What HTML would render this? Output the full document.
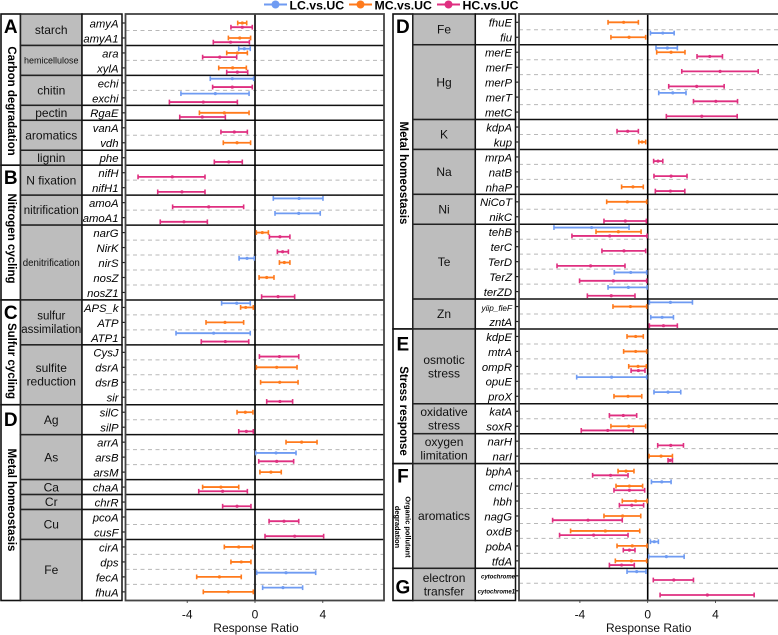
<!DOCTYPE html>
<html><head><meta charset="utf-8">
<style>
html,body{margin:0;padding:0;background:#fff;width:778px;height:635px;overflow:hidden}
svg{display:block;font-family:"Liberation Sans",sans-serif}
</style></head>
<body>
<svg id="chart" xmlns="http://www.w3.org/2000/svg" width="778" height="635" viewBox="0 0 778 635"></svg>
<script>
const seriesNames = ['LC.vs.UC','MC.vs.UC','HC.vs.UC'];
const xTicks = [-4,0,4];

const leftGenes = ['amyA','amyA1','ara','xylA','echi','exchi','RgaE','vanA','vdh','phe','nifH','nifH1','amoA','amoA1','narG','NirK','nirS','nosZ','nosZ1','APS_k','ATP','ATP1','CysJ','dsrA','dsrB','sir','silC','silP','arrA','arsB','arsM','chaA','chrR','pcoA','cusF','cirA','dps','fecA','fhuA'];
const leftGroupNames = ['starch','hemicellulose','chitin','pectin','aromatics','lignin','N fixation','nitrification','denitrification','sulfur\nassimilation','sulfite\nreduction','Ag','As','Ca','Cr','Cu','Fe'];
const leftGroupSizes = [2,2,2,1,2,1,2,2,5,3,4,2,3,1,1,2,4];
const leftLC = {ara:[-0.96,-0.63,-0.28],echi:[-2.64,-1.34,-0.08],exchi:[-4.37,-2.34,-0.35],amoA:[1.08,2.60,4.01],amoA1:[1.18,2.58,3.85],nirS:[-0.94,-0.47,-0.04],APS_k:[-1.97,-1.08,-0.28],ATP1:[-4.66,-2.44,-0.28],arsB:[0.04,1.24,2.42],fecA:[0.10,1.83,3.58],fhuA:[0.45,1.65,2.81]};
const leftMC = {amyA:[-1.02,-0.75,-0.49],amyA1:[-1.57,-0.90,-0.26],ara:[-1.67,-1.04,-0.45],xylA:[-2.14,-1.32,-0.51],RgaE:[-3.28,-1.81,-0.35],vdh:[-1.87,-1.06,-0.26],narG:[0.08,0.43,0.79],nirS:[1.44,1.73,2.06],nosZ:[0.24,0.69,1.12],APS_k:[-0.85,-0.55,-0.10],ATP:[-2.89,-1.77,-0.67],dsrA:[0.08,1.28,2.48],dsrB:[0.33,1.46,2.54],silC:[-1.06,-0.57,-0.12],arrA:[1.83,2.75,3.66],arsM:[0.29,0.94,1.55],chaA:[-3.09,-2.01,-0.96],cirA:[-1.81,-0.96,-0.14],dps:[-1.42,-0.81,-0.24],fecA:[-3.44,-2.10,-0.81],fhuA:[-3.05,-1.57,-0.10]};
const leftHC = {amyA:[-1.42,-0.75,-0.16],amyA1:[-2.46,-1.44,-0.33],ara:[-3.09,-2.08,-1.08],xylA:[-1.67,-1.04,-0.43],echi:[-2.50,-1.34,-0.16],exchi:[-5.05,-3.05,-1.04],RgaE:[-4.44,-3.11,-1.75],vanA:[-2.01,-1.22,-0.45],phe:[-2.40,-1.55,-0.75],nifH:[-6.90,-4.88,-2.95],nifH1:[-5.74,-4.31,-2.95],amoA:[-4.86,-2.73,-0.67],amoA1:[-5.59,-4.19,-2.81],narG:[0.85,1.47,2.06],NirK:[1.32,1.63,1.97],nosZ1:[0.39,1.36,2.34],ATP1:[-3.17,-1.75,-0.37],CysJ:[0.26,1.44,2.58],sir:[0.69,1.47,2.22],silP:[-0.96,-0.51,-0.10],arsB:[0.22,1.28,2.28],chaA:[-3.32,-1.91,-0.45],chrR:[-1.91,-1.06,-0.24],pcoA:[0.83,1.71,2.58],cusF:[0.59,2.34,4.05]};

const rightGenes = ['fhuE','fiu','merE','merF','merP','merT','metC','kdpA','kup','mrpA','natB','nhaP','NiCoT','nikC','tehB','terC','TerD','TerZ','terZD','yiip_fieF','zntA','kdpE','mtrA','ompR','opuE','proX','katA','soxR','narH','narI','bphA','cmcl','hbh','nagG','oxdB','pobA','tfdA','cytochrome','cytochrome1'];
const rightGroupNames = ['Fe','Hg','K','Na','Ni','Te','Zn','osmotic\nstress','oxidative\nstress','oxygen\nlimitation','aromatics','electron\ntransfer'];
const rightGroupSizes = [2,5,2,3,2,5,2,5,2,2,7,2];
const rightLC = {fiu:[0.16,0.89,1.56],merE:[0.49,1.16,1.75],merT:[0.65,1.48,2.26],tehB:[-5.53,-3.31,-1.10],TerZ:[-1.97,-1.00,-0.06],terZD:[-2.34,-1.14,-0.04],yiip_fieF:[0.10,1.34,2.64],zntA:[0.18,0.85,1.52],opuE:[-4.19,-2.13,-0.06],proX:[0.37,1.20,1.95],cmcl:[0.22,0.83,1.38],pobA:[0.16,0.39,0.63],tfdA:[0.06,1.10,2.15],cytochrome:[-1.22,-0.65,-0.10]};
const rightMC = {fhuE:[-2.34,-1.42,-0.55],fiu:[-2.17,-1.10,-0.12],merE:[0.53,1.38,2.20],kup:[-0.53,-0.33,-0.12],nhaP:[-1.54,-0.87,-0.26],NiCoT:[-2.42,-1.20,-0.06],tehB:[-3.05,-1.73,-0.39],yiip_fieF:[-2.05,-1.02,-0.06],kdpE:[-1.22,-0.71,-0.26],mtrA:[-1.42,-0.71,-0.06],ompR:[-1.12,-0.57,-0.08],proX:[-1.99,-1.16,-0.35],soxR:[-2.17,-1.12,-0.12],narI:[0.08,0.79,1.46],bphA:[-1.75,-1.28,-0.81],cmcl:[-1.87,-1.08,-0.30],hbh:[-1.50,-0.71,-0.04],nagG:[-2.58,-1.48,-0.41],oxdB:[-4.55,-2.50,-0.47],pobA:[-1.81,-0.91,-0.04],tfdA:[-1.91,-0.96,-0.06]};
const rightHC = {merE:[2.91,3.66,4.41],merF:[2.01,4.27,6.52],merP:[1.24,2.89,4.51],merT:[2.70,4.02,5.30],metC:[1.10,3.19,5.28],kdpA:[-1.81,-1.18,-0.55],mrpA:[0.35,0.61,0.89],natB:[0.37,1.38,2.32],nhaP:[0.45,1.34,2.19],nikC:[-2.58,-1.32,-0.08],tehB:[-4.47,-2.24,-0.04],terC:[-2.70,-1.40,-0.12],TerD:[-5.35,-3.37,-1.34],TerZ:[-4.02,-2.03,-0.06],terZD:[-3.56,-2.15,-0.75],zntA:[0.10,0.93,1.75],ompR:[-0.98,-0.55,-0.16],katA:[-2.26,-1.44,-0.65],soxR:[-3.92,-2.36,-0.85],narH:[0.59,1.36,2.11],narI:[1.20,1.32,1.46],bphA:[-3.25,-2.19,-1.16],cmcl:[-1.99,-1.08,-0.18],hbh:[-1.67,-0.94,-0.24],nagG:[-5.61,-3.52,-1.50],oxdB:[-5.20,-3.19,-1.16],pobA:[-1.44,-1.08,-0.75],tfdA:[-2.26,-1.54,-0.79],cytochrome:[0.33,1.54,2.70],cytochrome1:[0.73,3.52,6.28]};

const leftCategories = [
  {letter:'A',title:['Carbon degradation'],size:11.5,titleY:101,letterDy:19},
  {letter:'B',title:['Nitrogen cycling'],size:11.5,titleY:238.5,letterDy:19},
  {letter:'C',title:['Sulfur cycling'],size:11.5,titleY:361,letterDy:19},
  {letter:'D',title:['Metal homeostasis'],size:11.5,titleY:500,letterDy:21.5}
];
const leftCategorySizes = [10,9,7,13];
const rightCategories = [
  {letter:'D',title:['Metal homeostasis'],size:11.5,titleY:173,letterDy:19},
  {letter:'E',title:['Stress response'],size:11.5,titleY:411,letterDy:21.5},
  {letter:'F',title:['Organic pollutant','degradation'],size:7.4,titleY:527,letterDy:19},
  {letter:'G',title:[],size:10,titleY:0,letterDy:25}
];
const rightCategorySizes = [21,9,7,2];

const NS = 'http://www.w3.org/2000/svg';
const svg = document.getElementById('chart');
const COLORS = ['#6f9bf2','#ff7a1c','#df2f80'];

function mk(tag, attrs, parent, text){
  const e = document.createElementNS(NS, tag);
  for (const k in attrs) e.setAttribute(k, attrs[k]);
  if (text !== undefined) e.textContent = text;
  (parent || svg).appendChild(e);
  return e;
}
function kebab(s){ return String(s).toLowerCase().replace(/[^a-z0-9]+/g,'-').replace(/^-|-$/g,''); }

function drawPanel(cfg){
  const g = mk('g', {});
  
  
  const xs = v => cfg.zero + v * 16.95;
  const ys = i => cfg.y0 + i * cfg.step;
  const mid = i => ys(i) + cfg.step / 2;
  const top = 14, bottom = 600.5;

  // category column
  let r = 0;
  cfg.cats.forEach((c, ci) => {
    const n = cfg.catSizes[ci];
    const a = r === 0 ? top : mid(r - 1);
    const b = r + n >= cfg.genes.length ? bottom : mid(r + n - 1);
    const box = mk('rect', {x:cfg.catX, y:a, width:cfg.grayX - cfg.catX, height:b - a, fill:'#fff', stroke:'#111', 'stroke-width':1.6}, g);
    
    
    const cx = (cfg.catX + cfg.grayX) / 2;
    const letter = mk('text', {x:cx, y:a + c.letterDy, 'text-anchor':'middle', 'font-size':19, 'font-weight':'bold', fill:'#000'}, g, c.letter);
    
    
    c.title.forEach((line, li) => {
      const off = c.title.length > 1 ? (li === 0 ? 5 : -5.5) : 0;
      const t = mk('text', {transform:'translate(' + (cx + off) + ',' + c.titleY + ') rotate(90)', 'text-anchor':'middle', 'dominant-baseline':'central', 'font-size':c.size, 'font-weight':'bold', fill:'#000'}, g, line);
      
      
    });
    r += n;
  });

  // group + gene cells
  r = 0;
  cfg.groupNames.forEach((name, gi) => {
    const n = cfg.groupSizes[gi];
    const a = r === 0 ? top : mid(r - 1);
    const b = r + n >= cfg.genes.length ? bottom : mid(r + n - 1);
    const cell = mk('rect', {x:cfg.grayX, y:a, width:cfg.geneX - cfg.grayX, height:b - a, fill:'#bdbdbd', stroke:'#222', 'stroke-width':1.5}, g);
    
    
    const geneCell = mk('rect', {x:cfg.geneX, y:a, width:cfg.geneEnd - cfg.geneX, height:b - a, fill:'#fff', stroke:'#111', 'stroke-width':1.5}, g);
    
    
    const lines = name.split('\n');
    const fs = name === 'hemicellulose' ? 9 : name === 'denitrification' ? 9.7 : name === 'nitrification' ? 11.5 : lines[0] === 'sulfur' ? 11.5 : 12;
    const cy = (a + b) / 2;
    const lh = 13.5;
    lines.forEach((ln, li) => {
      const t = mk('text', {x:(cfg.grayX + cfg.geneX) / 2, y:cy + (li - (lines.length - 1) / 2) * lh + fs * 0.35, 'text-anchor':'middle', 'font-size':fs, fill:'#111'}, g, ln);
      
      
    });
    r += n;
  });

  // gene labels and ticks
  cfg.genes.forEach((gene, i) => {
    const tiny = gene.startsWith('cytochrome');
    const fs = tiny ? 6 : gene === 'yiip_fieF' ? 8.2 : 11.3;
    const t = mk('text', {x:cfg.geneEnd - (tiny ? 0.5 : 3.5), y:ys(i) + (tiny ? 2.6 : 4.4), 'text-anchor':'end', 'font-size':fs, 'font-style':'italic', 'font-weight':tiny ? 'bold' : 'normal', fill:'#000'}, g, gene);
    
    
    const tk = mk('line', {x1:cfg.geneEnd, x2:cfg.plotL, y1:ys(i), y2:ys(i), stroke:'#222', 'stroke-width':1.2}, g);
    
    
  });

  // plot background
  const bg = mk('rect', {x:cfg.plotL, y:top, width:cfg.plotR - cfg.plotL, height:bottom - top, fill:'#fff'}, g);
  
  

  // gridlines
  for (let i = 0; i < cfg.genes.length - 1; i++) {
    const l = mk('line', {x1:cfg.plotL, x2:cfg.plotR, y1:mid(i), y2:mid(i), stroke:'#b8b8b8', 'stroke-width':1, 'stroke-dasharray':'4 3.5'}, g);
    
    
  }
  // separators
  r = 0;
  cfg.groupSizes.forEach((n, gi) => {
    r += n;
    if (r >= cfg.genes.length) return;
    const l = mk('line', {x1:cfg.plotL, x2:cfg.plotR, y1:mid(r - 1), y2:mid(r - 1), stroke:'#111', 'stroke-width':1.5}, g);
    
    
  });
  // zero line
  const zl = mk('line', {x1:xs(0), x2:xs(0), y1:top, y2:bottom, stroke:'#000', 'stroke-width':1.6}, g);
  
  

  // bars
  const dodge = [-4.2, 0, 4.2];
  const keys = ['lc','mc','hc'];
  [cfg.lc, cfg.mc, cfg.hc].forEach((series, si) => {
    cfg.genes.forEach((gene, i) => {
      const v = series[gene];
      if (!v) return;
      const y = ys(i) + dodge[si];
      const bar = mk('g', {stroke:COLORS[si], fill:COLORS[si]}, g);
      
      
      mk('line', {x1:xs(v[0]), x2:xs(v[2]), y1:y, y2:y, 'stroke-width':1.8}, bar);
      mk('line', {x1:xs(v[0]), x2:xs(v[0]), y1:y - 2.4, y2:y + 2.4, 'stroke-width':1.6}, bar);
      mk('line', {x1:xs(v[2]), x2:xs(v[2]), y1:y - 2.4, y2:y + 2.4, 'stroke-width':1.6}, bar);
      mk('circle', {cx:xs(v[1]), cy:y, r:1.6, stroke:'none'}, bar);
    });
  });

  // frame
  const frame = mk('rect', {x:cfg.plotL, y:top, width:cfg.plotR - cfg.plotL, height:bottom - top, fill:'none', stroke:'#444', 'stroke-width':1.8}, g);
  
  

  // x axis
  xTicks.forEach(v => {
    const tk = mk('line', {x1:xs(v), x2:xs(v), y1:bottom, y2:bottom + 2.5, stroke:'#333', 'stroke-width':0.8}, g);
    
    
    const t = mk('text', {x:xs(v), y:bottom + 18, 'text-anchor':'middle', 'font-size':12, fill:'#111'}, g, String(v));
    
    
  });
  const at = mk('text', {x:xs(0) + 1, y:632, 'text-anchor':'middle', 'font-size':12, fill:'#111'}, g, 'Response Ratio');
  
  
}

drawPanel({name:'left-panel', genes:leftGenes, groupNames:leftGroupNames, groupSizes:leftGroupSizes, lc:leftLC, mc:leftMC, hc:leftHC, cats:leftCategories, catSizes:leftCategorySizes, y0:23, step:14.97, zero:255, catX:1, grayX:20.5, geneX:82, geneEnd:122, plotL:125.5, plotR:384});
drawPanel({name:'right-panel', genes:rightGenes, groupNames:rightGroupNames, groupSizes:rightGroupSizes, lc:rightLC, mc:rightMC, hc:rightHC, cats:rightCategories, catSizes:rightCategorySizes, y0:22.3, step:14.96, zero:647.7, catX:393, grayX:412.8, geneX:475.3, geneEnd:515.5, plotL:519, plotR:780});

// legend
const legendStarts = [264, 349, 437];
const legend = mk('g', {});


seriesNames.forEach((name, i) => {
  const lx = legendStarts[i];
  const item = mk('g', {}, legend);
  
  
  mk('line', {x1:lx, x2:lx + 23, y1:4.5, y2:4.5, stroke:COLORS[i], 'stroke-width':2}, item);
  mk('circle', {cx:lx + 11.5, cy:4.5, r:4, fill:COLORS[i]}, item);
  mk('text', {x:lx + 25.5, y:9.3, 'font-size':12.3, 'font-weight':'bold', fill:'#000'}, item, name);
});
</script>
</body></html>
